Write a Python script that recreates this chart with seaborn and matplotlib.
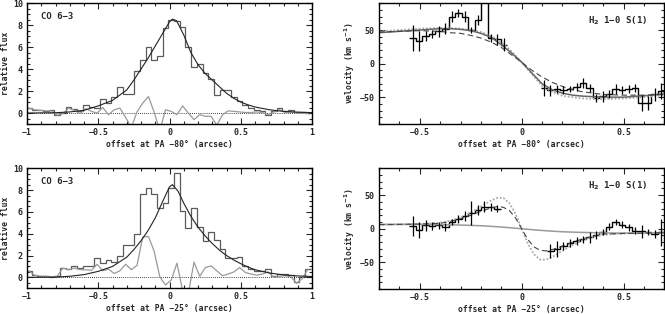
import numpy as np
import seaborn as sns
import matplotlib
matplotlib.use("Agg")
import matplotlib.pyplot as plt
from matplotlib.ticker import MultipleLocator, FuncFormatter

# ---- CO 6-3 profiles (left panels) ----
co_offset = [-0.988, -0.948, -0.908, -0.868, -0.828, -0.788, -0.748, -0.708, -0.668, -0.628,
             -0.588, -0.548, -0.508, -0.468, -0.428, -0.388, -0.348, -0.308, -0.268, -0.228,
             -0.188, -0.148, -0.108, -0.068, -0.028, 0.012, 0.052, 0.092, 0.132, 0.172,
             0.212, 0.252, 0.292, 0.332, 0.372, 0.412, 0.452, 0.492, 0.532, 0.572,
             0.612, 0.652, 0.692, 0.732, 0.772, 0.812, 0.852, 0.892, 0.932, 0.972]
co_width = 0.04

flux_pa80 = [0.45, 0.3, 0.3, 0.2, 0.25, -0.15, 0.0, 0.55, 0.4, 0.15,
             0.7, 0.55, 0.5, 1.3, 0.95, 1.45, 2.35, 1.7, 1.7, 3.85,
             4.85, 6.0, 4.85, 5.15, 7.7, 8.5, 8.35, 7.8, 6.0, 4.2,
             4.5, 3.6, 3.1, 1.6, 2.1, 2.1, 1.5, 1.1, 0.7, 0.45,
             0.3, 0.15, -0.15, 0.2, 0.5, 0.2, 0.25, 0.1, 0.05, 0.0]
resid_pa80 = [0.45, 0.3, 0.25, 0.2, 0.2, -0.2, -0.05, 0.45, 0.25, -0.05,
              0.4, 0.15, 0.0, 0.5, -0.15, 0.3, 0.45, -0.4, -1.3, 0.1,
              0.9, 1.5, 0.1, -1.6, 0.3, 0.15, -0.15, 0.65, 0.0, -0.6,
              -0.15, -0.3, -0.3, -1.1, -0.15, 0.2, 0.15, 0.1, 0.05, 0.05,
              0.1, 0.05, -0.15, 0.1, 0.3, 0.05, 0.1, 0.0, 0.0, -0.05]
fit_x_pa80 = [-1.0, -0.8, -0.7, -0.6, -0.5, -0.4, -0.3, -0.25, -0.2, -0.15, -0.1, -0.05,
              0.0, 0.02, 0.05, 0.1, 0.15, 0.2, 0.25, 0.3, 0.35, 0.4, 0.45, 0.5, 0.55,
              0.6, 0.7, 0.8, 0.9, 1.0]
fit_y_pa80 = [0.0, 0.03, 0.1, 0.25, 0.65, 1.15, 2.1, 3.0, 4.0, 5.0, 6.1, 7.2,
              8.3, 8.55, 8.4, 7.1, 5.5, 4.4, 3.6, 3.0, 2.4, 1.8, 1.35, 1.0, 0.75,
              0.55, 0.3, 0.15, 0.08, 0.04]

flux_pa25 = [0.6, 0.2, 0.1, 0.1, 0.05, 0.1, 0.9, 0.8, 1.0, 0.9,
             1.0, 1.05, 1.75, 1.3, 1.6, 1.4, 2.0, 3.0, 3.0, 4.0,
             7.6, 8.2, 7.6, 6.4, 6.8, 8.2, 9.6, 6.1, 4.5, 6.4,
             4.6, 3.3, 4.2, 3.4, 2.6, 1.8, 1.8, 1.9, 1.0, 0.75,
             0.6, 0.6, 0.75, 0.15, 0.3, 0.3, 0.2, -0.45, 0.0, 0.8]
resid_pa25 = [0.6, 0.2, 0.1, 0.1, 0.05, 0.1, 0.85, 0.7, 0.85, 0.7,
              0.7, 0.65, 1.2, 0.6, 0.75, 0.35, 0.6, 1.2, 0.7, 1.1,
              3.7, 3.75, 2.4, 0.05, -0.7, -0.25, 1.3, -1.2, -1.5, 1.4,
              0.1, 0.9, 1.05, 0.6, 0.15, 0.3, 0.5, 0.9, 0.45, 0.3,
              0.2, 0.3, 0.5, 0.0, 0.1, 0.15, 0.05, -0.55, -0.1, 0.75]
fit_x_pa25 = [-1.0, -0.8, -0.7, -0.6, -0.5, -0.4, -0.3, -0.25, -0.2, -0.15, -0.1, -0.05,
              0.0, 0.02, 0.06, 0.1, 0.15, 0.2, 0.25, 0.3, 0.35, 0.4, 0.45, 0.5, 0.55,
              0.6, 0.7, 0.8, 0.9, 1.0]
fit_y_pa25 = [0.0, 0.02, 0.1, 0.25, 0.55, 1.0, 1.85, 2.55, 3.35, 4.3, 5.45, 6.9,
              8.3, 8.5, 7.9, 6.8, 5.6, 4.6, 3.8, 3.1, 2.5, 2.0, 1.6, 1.25, 0.95,
              0.7, 0.4, 0.22, 0.13, 0.08]

# ---- H2 1-0 S(1) velocities (right panels) ----
h2_width = 0.032
vel80_x_a = [-0.535, -0.503, -0.471, -0.439, -0.407, -0.375, -0.343, -0.311, -0.279, -0.247,
             -0.215, -0.183, -0.151, -0.119, -0.087]
vel80_a = [38, 33, 41, 44, 48, 52, 70, 76, 70, 50, 65, 200, 38, 36, 28]
err80_a = [20, 15, 8, 6, 8, 8, 8, 6, 8, 5, 8, 0, 6, 8, 10]
vel80_x_b = [0.109, 0.141, 0.173, 0.205, 0.237, 0.269, 0.301, 0.333, 0.365, 0.397,
             0.429, 0.461, 0.493, 0.525, 0.557, 0.589, 0.621, 0.653, 0.685]
vel80_b = [-36, -40, -38, -39, -38, -35, -29, -36, -51, -49,
           -45, -38, -40, -38, -36, -59, -59, -46, -41]
err80_b = [12, 8, 6, 6, 5, 6, 8, 6, 6, 8, 6, 8, 6, 6, 6, 12, 10, 10, 12]

mod80_x = [-0.7, -0.6, -0.5, -0.4, -0.35, -0.3, -0.25, -0.2, -0.15, -0.1, -0.05, 0.0,
           0.05, 0.1, 0.15, 0.2, 0.25, 0.3, 0.4, 0.5, 0.6, 0.7]
mod80_solid = [46, 48, 50, 52, 52, 51, 49, 45, 39, 28, 16, 2,
               -14, -30, -39, -44, -47, -48.5, -50, -50, -48, -45]
mod80_dashed = [47, 48, 49, 48, 46, 45, 42, 38, 32, 24, 13, 2,
                -10, -20, -28, -34, -39, -42, -46, -47, -47, -46]
mod80_dotted = [48, 50, 52, 53, 53, 52, 50, 47, 41, 32, 18, 2,
                -16, -33, -42, -48, -50, -52, -53, -52, -50, -47]

vel25_x_a = [-0.535, -0.503, -0.471, -0.439, -0.407, -0.375, -0.343, -0.311, -0.279, -0.247,
             -0.215, -0.183, -0.151, -0.119]
vel25_a = [4, -2, 5, 4, 5, 3, 10, 15, 19, 24, 28, 33, 32, 30]
err25_a = [15, 12, 8, 6, 5, 6, 5, 6, 8, 18, 8, 8, 6, 5]
vel25_x_b = [0.141, 0.173, 0.205, 0.237, 0.269, 0.301, 0.333, 0.365, 0.397,
             0.429, 0.461, 0.493, 0.525, 0.557, 0.589, 0.621, 0.653, 0.685]
vel25_b = [-33, -30, -25, -21, -18, -16, -13, -10, -5, 3, 10, 6, 2, -3, -4, -5, -8, -5]
err25_b = [10, 12, 6, 6, 6, 5, 8, 6, 5, 5, 5, 5, 5, 5, 10, 5, 6, 20]

mod25_x = [-0.7, -0.5, -0.4, -0.35, -0.3, -0.25, -0.2, -0.15, -0.12, -0.09, -0.06, -0.03,
           0.0, 0.03, 0.06, 0.09, 0.12, 0.15, 0.2, 0.25, 0.3, 0.35, 0.4, 0.5, 0.7]
mod25_solid = [6.5, 6.5, 6.2, 5.8, 5.5, 5.0, 4.5, 3.6, 3.0, 2.3, 1.6, 0.8,
               0.0, -0.8, -1.6, -2.3, -3.0, -3.6, -4.5, -5.0, -5.5, -5.8, -6.2, -6.5, -6.5]
mod25_dashed = [6, 7, 8, 11, 15, 20, 26, 31, 33, 32, 27, 16,
                0, -16, -27, -32, -33, -31, -26, -20, -15, -11, -8, -7, -6]
mod25_dotted = [6, 7, 9, 12, 17, 24, 33, 42, 46, 46, 38, 22,
                0, -22, -38, -46, -46, -42, -33, -24, -17, -12, -9, -7, -6]

sns.set_style("ticks")
plt.rcParams['font.family'] = ['DejaVu Sans Mono', 'DejaVu Sans']
plt.rcParams['font.size'] = 5.8
plt.rcParams['font.weight'] = 'bold'
plt.rcParams['axes.labelweight'] = 'bold'

fig = plt.figure(figsize=(6.65, 3.14), dpi=100)
ax_tl = fig.add_axes([0.0406, 0.605, 0.4286, 0.385])
ax_bl = fig.add_axes([0.0406, 0.082, 0.4286, 0.382])
ax_tr = fig.add_axes([0.570, 0.605, 0.429, 0.385])
ax_br = fig.add_axes([0.570, 0.079, 0.429, 0.385])


def fmt(v, pos):
    s = f"{v:g}"
    if s == "-0":
        s = "0"
    return s.replace('-', '\u2212')


def style_axes(ax, xmaj, xmin, ymaj, ymin):
    for sp in ax.spines.values():
        sp.set_visible(True)
        sp.set_linewidth(1.0)
        sp.set_color('black')
    ax.xaxis.set_major_locator(MultipleLocator(xmaj))
    ax.xaxis.set_minor_locator(MultipleLocator(xmin))
    ax.yaxis.set_major_locator(MultipleLocator(ymaj))
    ax.yaxis.set_minor_locator(MultipleLocator(ymin))
    ax.xaxis.set_major_formatter(FuncFormatter(fmt))
    ax.yaxis.set_major_formatter(FuncFormatter(fmt))
    ax.tick_params(which='both', direction='in', top=True, right=True,
                   width=0.8, labelsize=6, pad=3)
    ax.tick_params(which='major', length=4)
    ax.tick_params(which='minor', length=2)


def co_panel(ax, flux, resid, fx, fy, pa):
    edges = [c - co_width / 2 for c in co_offset] + [co_offset[-1] + co_width / 2]
    ax.axhline(0, color='black', lw=0.6, ls=(0, (1, 1.5)))
    ax.stairs(flux, edges, baseline=None, color='#5a5a5a', lw=0.9)
    sns.lineplot(x=co_offset, y=resid, ax=ax, color='#9a9a9a', lw=0.9,
                 estimator=None, sort=False)
    sns.lineplot(x=fx, y=fy, ax=ax, color='#222222', lw=0.8,
                 estimator=None, sort=False)
    ax.set_xlim(-1, 1)
    ax.set_ylim(-1, 10)
    style_axes(ax, 0.5, 0.1, 2, 0.5)
    ax.set_xlabel(f"offset at PA \u2212{pa}\u00b0 (arcsec)", labelpad=2)
    ax.set_ylabel("relative flux", labelpad=2)
    ax.text(0.05, 0.87, "CO 6\u22123", transform=ax.transAxes, fontsize=6.5)


def h2_panel(ax, xa, va, ea, xb, vb, eb, mx, ms, md, mdot, pa, solid_col):
    sns.lineplot(x=mx, y=mdot, ax=ax, color='#aaaaaa', lw=1.3, ls=(0, (1, 1)),
                 estimator=None, sort=False)
    sns.lineplot(x=mx, y=ms, ax=ax, color=solid_col, lw=1.1,
                 estimator=None, sort=False)
    sns.lineplot(x=mx, y=md, ax=ax, color='#444444', lw=0.8, ls=(0, (5, 3)),
                 estimator=None, sort=False)
    for xs, vs, es in ((xa, va, ea), (xb, vb, eb)):
        edges = [c - h2_width / 2 for c in xs] + [xs[-1] + h2_width / 2]
        ax.stairs(vs, edges, baseline=None, color='black', lw=1.0)
        ax.errorbar(xs, vs, yerr=es, fmt='none', ecolor='black', elinewidth=0.9)
    ax.set_xlim(-0.7, 0.7)
    ax.set_ylim(-90, 90)
    style_axes(ax, 0.5, 0.1, 50, 10)
    ax.set_xlabel(f"offset at PA \u2212{pa}\u00b0 (arcsec)", labelpad=2)
    ax.set_ylabel("velocity (km s$^{\\mathbf{-1}}$)", labelpad=2)
    ax.text(0.94, 0.83, "H$_\\mathbf{2}$ 1\u22120 S(1)", transform=ax.transAxes,
            ha='right', fontsize=6.5)


co_panel(ax_tl, flux_pa80, resid_pa80, fit_x_pa80, fit_y_pa80, 80)
co_panel(ax_bl, flux_pa25, resid_pa25, fit_x_pa25, fit_y_pa25, 25)
h2_panel(ax_tr, vel80_x_a, vel80_a, err80_a, vel80_x_b, vel80_b, err80_b,
         mod80_x, mod80_solid, mod80_dashed, mod80_dotted, 80, '#666666')
h2_panel(ax_br, vel25_x_a, vel25_a, err25_a, vel25_x_b, vel25_b, err25_b,
         mod25_x, mod25_solid, mod25_dashed, mod25_dotted, 25, '#9a9a9a')

fig.savefig("out.png", dpi=100)
